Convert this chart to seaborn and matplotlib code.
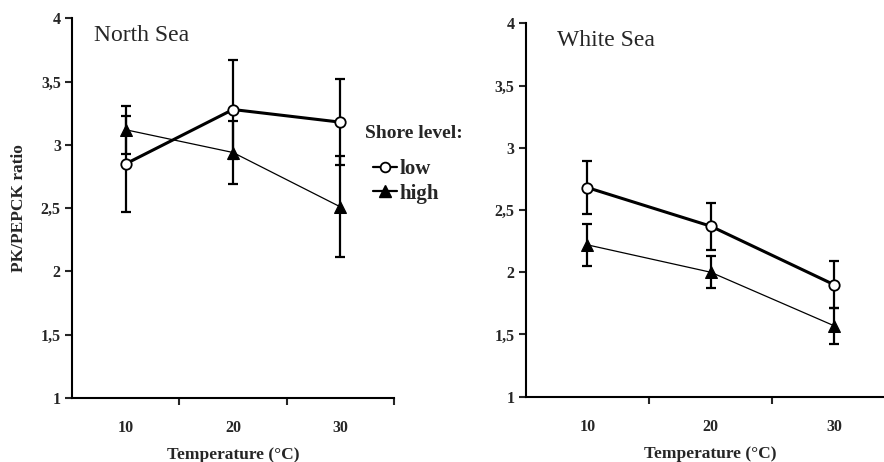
import matplotlib
matplotlib.use("Agg")
import matplotlib.pyplot as plt
import seaborn as sns
import pandas as pd
from matplotlib.lines import Line2D

sns.set_theme(style="ticks")
plt.rcParams['font.family'] = ['Liberation Serif', 'DejaVu Serif']

temps = ["10", "20", "30"]
yticks = [1, 1.5, 2, 2.5, 3, 3.5, 4]
ytick_labels = ["1", "1,5", "2", "2,5", "3", "3,5", "4"]

north_low = [2.85, 3.28, 3.18]
north_low_err = [0.38, 0.39, 0.34]
north_high = [3.12, 2.94, 2.51]
north_high_err = [0.19, 0.25, 0.40]

white_low = [2.68, 2.37, 1.90]
white_low_err = [0.21, 0.19, 0.19]
white_high = [2.22, 2.00, 1.57]
white_high_err = [0.17, 0.13, 0.145]

fig = plt.figure(figsize=(8.84, 4.62), dpi=100)
ax1 = fig.add_axes([0.0814, 0.139, 0.3643, 0.821])
ax2 = fig.add_axes([0.5947, 0.1413, 0.4186, 0.8083])


def draw(ax, low, low_err, high, high_err, title, tx):
    pos = list(range(len(temps)))
    df_low = pd.DataFrame({"x": pos, "y": low})
    df_high = pd.DataFrame({"x": pos, "y": high})
    ax.errorbar(pos, low, yerr=low_err, fmt="none", ecolor="black",
                elinewidth=1.6, capsize=3.6, capthick=1.6, zorder=2)
    ax.errorbar(pos, high, yerr=high_err, fmt="none", ecolor="black",
                elinewidth=1.6, capsize=3.6, capthick=1.6, zorder=2)
    sns.lineplot(data=df_high, x="x", y="y", ax=ax, color="black", linewidth=0.9,
                 marker="^", markersize=8, markerfacecolor="black",
                 markeredgecolor="black", zorder=3)
    sns.lineplot(data=df_low, x="x", y="y", ax=ax, color="black", linewidth=2.2,
                 marker="o", markersize=7.5, markerfacecolor="white",
                 markeredgecolor="black", markeredgewidth=1.3, zorder=4)
    ax.set_xlim(-0.5, 2.5)
    ax.set_ylim(1, 4)
    ax.set_xticks([0.5, 1.5, 2.5])
    ax.set_xticklabels([])
    ax.set_xticks(pos, minor=True)
    ax.set_xticklabels(temps, minor=True, fontweight="bold", fontsize=11.5)
    ax.tick_params(axis="x", which="major", length=5, width=1.5, direction="out")
    ax.tick_params(axis="x", which="minor", length=0, pad=16)
    ax.set_yticks(yticks)
    ax.set_yticklabels(ytick_labels, fontweight="bold", fontsize=11.5)
    ax.tick_params(axis="y", length=5, width=1.5, direction="out", pad=3)
    for s in ["top", "right"]:
        ax.spines[s].set_visible(False)
    for s in ["left", "bottom"]:
        ax.spines[s].set_linewidth(1.5)
        ax.spines[s].set_color("black")
    ax.set_xlabel("Temperature (\u00b0C)", fontweight="bold", fontsize=12.5, labelpad=8)
    ax.set_ylabel("")
    ax.text(tx, 0.955, title, transform=ax.transAxes, fontsize=17,
            ha="left", va="center")


draw(ax1, north_low, north_low_err, north_high, north_high_err, "North Sea", 0.068)
draw(ax2, white_low, white_low_err, white_high, white_high_err, "White Sea", 0.084)
ax1.set_ylabel("PK/PEPCK ratio", fontweight="bold", fontsize=12.5, labelpad=10)

handles = [
    Line2D([], [], color="black", linewidth=1.6, marker="o", markersize=7,
           markerfacecolor="white", markeredgecolor="black", markeredgewidth=1.3),
    Line2D([], [], color="black", linewidth=1.6, marker="^", markersize=8,
           markerfacecolor="black", markeredgecolor="black"),
]
fig.text(365 / 884, 1 - 133 / 462, "Shore level:", fontweight="bold", fontsize=14,
         ha="left", va="center")
leg = fig.legend(handles, ["low", "high"],
                 loc="upper left", bbox_to_anchor=(0.405, 0.687),
                 frameon=False, prop={"weight": "bold", "size": 15},
                 handlelength=1.15, handletextpad=0.15, labelspacing=0.22,
                 borderpad=0.2)

fig.savefig("out.png", dpi=100, facecolor="white")
